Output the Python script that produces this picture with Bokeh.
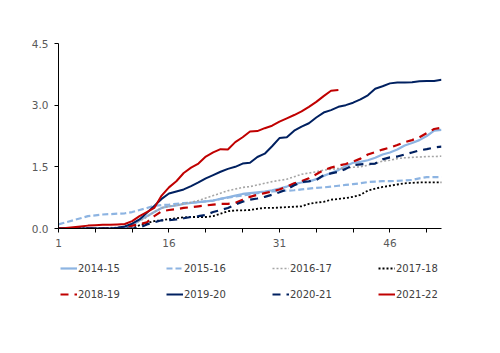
from bokeh.plotting import figure
from bokeh.layouts import column
from bokeh.models import Range1d, FixedTicker, NumeralTickFormatter, Legend, LegendItem
from bokeh.embed import file_html
from bokeh.resources import INLINE

weeks = list(range(1, 54))

s2014_15 = [0, 0, 0, 0, 0, 0, 0, 0, 0, 0.02, 0.07, 0.2, 0.3, 0.4, 0.5, 0.54, 0.56, 0.6, 0.62, 0.64,
            0.66, 0.68, 0.72, 0.76, 0.8, 0.84, 0.86, 0.88, 0.9, 0.93, 0.97, 1.02, 1.08, 1.12, 1.14, 1.2,
            1.28, 1.35, 1.42, 1.52, 1.6, 1.62, 1.66, 1.72, 1.8, 1.85, 1.92, 2.02, 2.08, 2.15, 2.25, 2.38, 2.4]
s2015_16 = [0.1, 0.15, 0.2, 0.25, 0.3, 0.32, 0.34, 0.35, 0.36, 0.37, 0.4, 0.45, 0.5, 0.55, 0.57, 0.58,
            0.6, 0.62, 0.63, 0.64, 0.66, 0.68, 0.72, 0.75, 0.78, 0.8, 0.83, 0.86, 0.88, 0.9, 0.91, 0.92,
            0.93, 0.95, 0.97, 0.99, 1.0, 1.02, 1.04, 1.06, 1.08, 1.1, 1.13, 1.14, 1.15, 1.15, 1.16, 1.17,
            1.18, 1.22, 1.25, 1.25, 1.25]
s2016_17 = [0, 0, 0, 0, 0, 0.01, 0.02, 0.02, 0.03, 0.05, 0.1, 0.18, 0.28, 0.4, 0.5, 0.54, 0.56, 0.6,
            0.64, 0.68, 0.74, 0.8, 0.86, 0.92, 0.96, 1.0, 1.02, 1.06, 1.1, 1.14, 1.17, 1.2, 1.26, 1.32,
            1.35, 1.38, 1.42, 1.44, 1.46, 1.47, 1.49, 1.5, 1.54, 1.58, 1.64, 1.66, 1.7, 1.72, 1.73, 1.74,
            1.75, 1.75, 1.76]
s2017_18 = [0, 0, 0, 0, 0, 0, 0, 0, 0, 0, 0, 0.08, 0.13, 0.18, 0.2, 0.23, 0.25, 0.27, 0.28, 0.28,
            0.28, 0.3, 0.36, 0.42, 0.44, 0.44, 0.45, 0.48, 0.5, 0.5, 0.51, 0.52, 0.53, 0.54, 0.6, 0.63,
            0.65, 0.7, 0.72, 0.74, 0.77, 0.82, 0.92, 0.97, 1.01, 1.04, 1.07, 1.1, 1.11, 1.12, 1.12, 1.12, 1.12]
s2018_19 = [0, 0, 0, 0, 0, 0, 0, 0, 0.01, 0.03, 0.07, 0.1, 0.15, 0.3, 0.42, 0.45, 0.47, 0.5, 0.52,
            0.54, 0.56, 0.58, 0.6, 0.6, 0.62, 0.7, 0.77, 0.82, 0.86, 0.9, 0.95, 1.02, 1.1, 1.15, 1.22,
            1.32, 1.42, 1.48, 1.53, 1.57, 1.63, 1.7, 1.8, 1.86, 1.92, 1.97, 2.03, 2.1, 2.15, 2.22, 2.32,
            2.42, 2.45]
s2019_20 = [0, 0, 0, 0, 0, 0, 0, 0, 0.02, 0.05, 0.12, 0.22, 0.38, 0.55, 0.72, 0.85, 0.9, 0.95, 1.03,
            1.12, 1.22, 1.3, 1.38, 1.45, 1.5, 1.58, 1.6, 1.74, 1.82, 2.0, 2.2, 2.22, 2.38, 2.48, 2.56, 2.7,
            2.82, 2.88, 2.96, 3.0, 3.06, 3.14, 3.24, 3.4, 3.46, 3.53, 3.55, 3.55, 3.56, 3.58, 3.59, 3.59, 3.62]
s2020_21 = [0, 0, 0, 0, 0, 0, 0, 0, 0, 0, 0, 0.02, 0.1, 0.15, 0.2, 0.2, 0.22, 0.25, 0.28, 0.3, 0.33,
            0.4, 0.45, 0.5, 0.58, 0.65, 0.7, 0.73, 0.77, 0.82, 0.88, 0.95, 1.05, 1.13, 1.15, 1.18, 1.3,
            1.34, 1.38, 1.45, 1.54, 1.56, 1.57, 1.58, 1.68, 1.73, 1.75, 1.8, 1.85, 1.9, 1.93, 1.97, 1.99]
s2021_22 = [0, 0.01, 0.03, 0.05, 0.07, 0.08, 0.09, 0.09, 0.1, 0.11, 0.18, 0.3, 0.4, 0.5, 0.8, 1.0,
            1.15, 1.35, 1.48, 1.58, 1.75, 1.85, 1.93, 1.92, 2.1, 2.22, 2.36, 2.37, 2.44, 2.5, 2.6, 2.68,
            2.76, 2.85, 2.96, 3.08, 3.22, 3.35, 3.37]

series_names = ["2014-15", "2015-16", "2016-17", "2017-18", "2018-19", "2019-20", "2020-21", "2021-22"]
series_data = [s2014_15, s2015_16, s2016_17, s2017_18, s2018_19, s2019_20, s2020_21, s2021_22]
styles = [
    dict(color="#8DB4E2", dash="solid", width=2.2),
    dict(color="#8DB4E2", dash="6 3", width=2.2),
    dict(color="#A6A6A6", dash="2 2", width=1.6),
    dict(color="#000000", dash="2 2", width=1.8),
    dict(color="#C00000", dash="8 6", width=2.2),
    dict(color="#002060", dash="solid", width=2.0),
    dict(color="#002060", dash="8 6", width=2.2),
    dict(color="#C00000", dash="solid", width=2.0),
]

x_ticks = [1, 16, 31, 46]
x_minor = [6, 11, 21, 26, 36, 41, 51]
y_ticks = [0, 1.5, 3.0, 4.5]

FONT = "DejaVu Sans"
NAN = float("nan")

# main chart: frame spans x 58..441, y 43..228
p = figure(width=500, height=253, output_backend="svg", toolbar_location=None,
           x_range=Range1d(1, 53), y_range=Range1d(0, 4.5),
           min_border_left=58, min_border_right=59, min_border_top=43, min_border_bottom=25)
p.outline_line_color = None
p.xgrid.visible = False
p.ygrid.visible = False

for name, ys, st in zip(series_names, series_data, styles):
    p.line(weeks[:len(ys)], ys, line_color=st["color"], line_dash=st["dash"], line_width=st["width"])

p.xaxis.ticker = FixedTicker(ticks=x_ticks, minor_ticks=x_minor)
p.yaxis.ticker = FixedTicker(ticks=y_ticks)
p.yaxis.formatter = NumeralTickFormatter(format="0.0")
for ax in (p.xaxis, p.yaxis):
    ax.axis_line_color = "#000000"
    ax.axis_line_width = 1
    ax.major_tick_line_color = "#000000"
    ax.minor_tick_line_color = "#000000"
    ax.major_tick_in = 0
    ax.major_tick_out = 4
    ax.minor_tick_in = 0
    ax.minor_tick_out = 4
    ax.major_label_text_font = FONT
    ax.major_label_text_font_size = "10.5px"
    ax.major_label_text_color = "#595959"
p.yaxis.minor_tick_line_color = None
p.xaxis.major_label_standoff = 6
p.yaxis.major_label_standoff = 6

# legend strip below the chart (its frame is aligned with the chart's frame)
q = figure(width=500, height=100, output_backend="svg", toolbar_location=None,
           x_range=Range1d(0, 1), y_range=Range1d(0, 1),
           min_border_left=58, min_border_right=59, min_border_top=0, min_border_bottom=0)
q.outline_line_color = None
q.axis.visible = False
q.xgrid.visible = False
q.ygrid.visible = False

items = []
for name, st in zip(series_names, styles):
    r = q.line([NAN, NAN], [NAN, NAN], line_color=st["color"], line_dash=st["dash"], line_width=st["width"])
    items.append(LegendItem(label=name, renderers=[r]))

legend = Legend(items=items, ncols=4, orientation="horizontal", location=(2, 49),
                glyph_width=17, glyph_height=20, label_height=20, label_width=82,
                label_standoff=1, spacing=6, padding=0, margin=0,
                border_line_color=None, background_fill_alpha=0,
                label_text_font=FONT, label_text_font_size="10px", label_text_color="#404040")
q.add_layout(legend, "center")

layout = column(p, q, spacing=0)
open("out.html", "w").write(file_html(layout, INLINE))
